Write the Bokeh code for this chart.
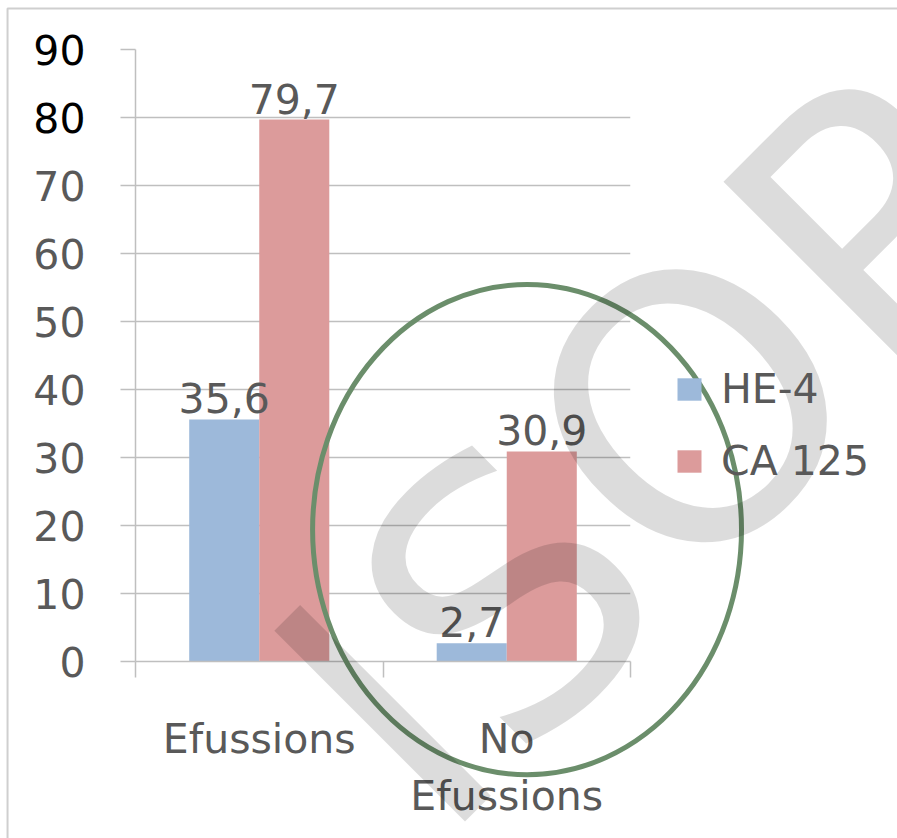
import math

from bokeh.plotting import figure
from bokeh.models import Range1d, FixedTicker, Legend, LegendItem
from bokeh.core.properties import value
from bokeh.embed import file_html
from bokeh.resources import INLINE

# --- data -------------------------------------------------------------
categories = ["Efussions", "No Efussions"]
series_names = ["HE-4", "CA 125"]
he4 = [35.6, 2.7]
ca125 = [79.7, 30.9]
y_ticks = [0, 10, 20, 30, 40, 50, 60, 70, 80, 90]
dark_ticks = [80, 90]

# --- style ------------------------------------------------------------
FONT = "DejaVu Sans"
SIZE = "41px"
TEXT = "#595959"
GRID = "#bfbfbf"
BLUE = "#9db9da"
RED = "#dc9b9b"
RING = "#6b8e6b"

p = figure(
    frame_width=495, frame_height=612,
    min_border_left=135, min_border_right=267,
    min_border_top=49, min_border_bottom=177,
    x_range=Range1d(0, len(categories)), y_range=Range1d(0, 90),
    output_backend="svg", toolbar_location=None,
    background_fill_color="white", border_fill_color="white",
)
p.outline_line_color = None

# grid
p.xgrid.visible = False
p.ygrid.ticker = FixedTicker(ticks=y_ticks)
p.ygrid.grid_line_color = GRID
p.ygrid.grid_line_width = 1.5

# bars: two series side by side within each category slot
bar_w = 0.283
centers = [i + 0.5 for i in range(len(categories))]
x_he = [c - bar_w / 2 for c in centers]
x_ca = [c + bar_w / 2 for c in centers]
r_he = p.vbar(x=x_he, top=he4, width=bar_w, fill_color=BLUE, line_color=None)
r_ca = p.vbar(x=x_ca, top=ca125, width=bar_w, fill_color=RED, line_color=None)


def fmt(v):
    return f"{v:.1f}".replace(".", ",")


for xs, vals in ((x_he, he4), (x_ca, ca125)):
    p.text(x=xs, y=vals, text=[fmt(v) for v in vals],
           text_font=value(FONT), text_font_size=SIZE, text_color=TEXT,
           text_align="center", text_baseline="alphabetic", y_offset=-21)

# y axis
ya = p.yaxis[0]
ya.ticker = FixedTicker(ticks=y_ticks)
ya.axis_line_color = GRID
ya.axis_line_width = 1.5
ya.major_tick_line_color = GRID
ya.major_tick_line_width = 1.5
ya.major_tick_out = 15
ya.major_tick_in = 0
ya.minor_tick_line_color = None
ya.major_label_standoff = 35
ya.major_label_text_font = FONT
ya.major_label_text_font_size = SIZE
ya.major_label_text_color = TEXT
ya.major_label_overrides = {t: "" for t in dark_ticks}

# the two top tick labels are printed in black, right-aligned like the rest
p.text(x=[-0.202] * len(dark_ticks), y=dark_ticks, text=[str(t) for t in dark_ticks],
       text_font=value(FONT), text_font_size=SIZE, text_color="black",
       text_align="right", text_baseline="middle", level="overlay")

# x axis: category names centred, tick marks on the slot boundaries
xa = p.xaxis[0]
xa.ticker = FixedTicker(ticks=centers, minor_ticks=list(range(len(categories) + 1)))
xa.major_label_overrides = {c: name.replace(" ", "\n") for c, name in zip(centers, categories)}
xa.axis_line_color = GRID
xa.axis_line_width = 1.5
xa.major_tick_line_color = None
xa.minor_tick_line_color = GRID
xa.minor_tick_line_width = 1.5
xa.minor_tick_out = 16
xa.minor_tick_in = 0
xa.major_label_standoff = 37
xa.major_label_text_font = FONT
xa.major_label_text_font_size = SIZE
xa.major_label_text_color = TEXT

# legend in the right-hand panel
legend = Legend(
    items=[LegendItem(label=series_names[0], renderers=[r_he]),
           LegendItem(label=series_names[1], renderers=[r_ca])],
    location=(44, 176), orientation="vertical",
    glyph_width=30, glyph_height=28, label_standoff=17, spacing=24,
    padding=0, margin=0, border_line_color=None, background_fill_alpha=0,
    label_text_font=FONT, label_text_font_size=SIZE, label_text_color=TEXT,
)
p.add_layout(legend, "right")

# hand-drawn ring around the "No Efussions" group
p.ellipse(x=[1.582], y=[19.4], width=[1.733], height=[72.1],
          fill_color=None, line_color=RING, line_width=5, level="overlay")

# light border along the top and left of the chart area
p.line(x=[-0.517, -0.517, 3.2], y=[-30, 96.03, 96.03],
       line_color="#cfcfcf", line_width=2, level="overlay")

# faint rotated watermark on top of everything
p.text(x=[0.862], y=[-14.0], text=["ISOP"], angle=math.pi / 4,
       text_font=value(FONT), text_font_size="370px", text_color="black",
       text_alpha=0.137, text_align="left", text_baseline="alphabetic",
       level="overlay")

open("out.html", "w").write(file_html(p, INLINE))
